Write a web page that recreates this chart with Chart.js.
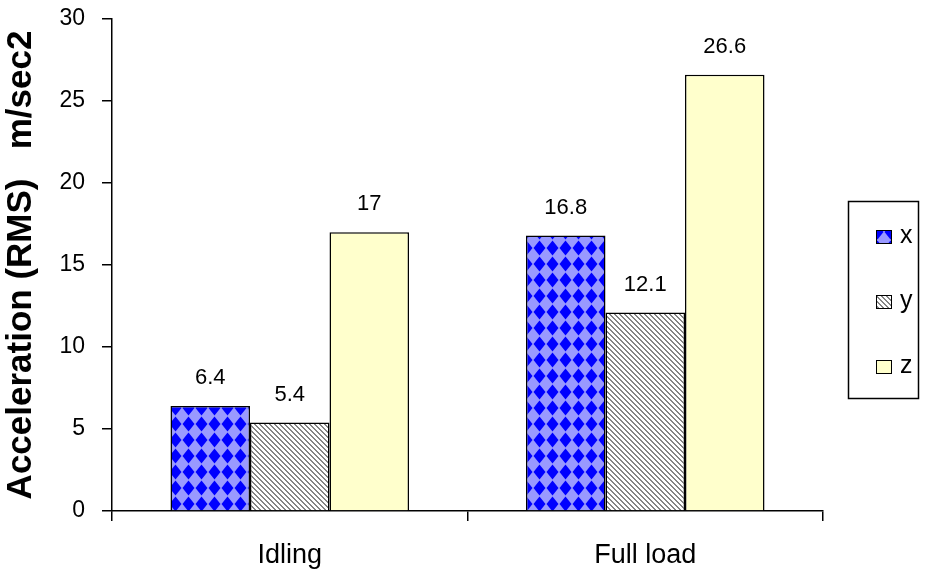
<!DOCTYPE html>
<html>
<head>
<meta charset="utf-8">
<script src="https://cdn.jsdelivr.net/npm/chart.js@4"></script>
<style>
  html, body { margin: 0; padding: 0; background: #fff; }
  #wrap { width: 928px; height: 577px; }
</style>
</head>
<body>
<div id="wrap"><canvas id="accel"></canvas></div>
<script>
// values
var categories = ["Idling", "Full load"];
var seriesNames = ["x", "y", "z"];
var xValues = [6.4, 16.8];
var yValues = [5.4, 12.1];
var zValues = [17, 26.6];
var yTicks = [0, 5, 10, 15, 20, 25, 30];

var FONT = "'Liberation Sans', Arial, sans-serif";

// blue diamond checker, like the old excel fill
function diamondPattern() {
    let c = document.createElement("canvas");
    c.width = 13; c.height = 16;
    let g = c.getContext("2d");
    g.fillStyle = "#9999ff";
    g.fillRect(0, 0, 13, 16);
    g.fillStyle = "#0000ff";
    g.beginPath();
    g.moveTo(6.5, 0.5);
    g.lineTo(12.5, 8);
    g.lineTo(6.5, 15.5);
    g.lineTo(0.5, 8);
    g.closePath();
    g.fill();
    return g.createPattern(c, "repeat");
}

// grey diagonal hatching
function stripePattern() {
    let c = document.createElement("canvas");
    c.width = 5; c.height = 5;
    let g = c.getContext("2d");
    g.fillStyle = "#ffffff";
    g.fillRect(0, 0, 5, 5);
    g.fillStyle = "#858585";
    for (let i = 0; i < 5; i++) {
        for (let j = 0; j < 5; j++) {
            if (((i - j) % 5 + 5) % 5 < 2) g.fillRect(i, j, 1, 1);
        }
    }
    return g.createPattern(c, "repeat");
}

var fills = [diamondPattern(), stripePattern(), "#ffffcc"];

// numbers above the bars
var valueLabels = {
    id: "valueLabels",
    afterDatasetsDraw(chart) {
        let ctx = chart.ctx;
        ctx.save();
        ctx.font = "22px " + FONT;
        ctx.fillStyle = "#000";
        ctx.textAlign = "center";
        ctx.textBaseline = "middle";
        chart.data.datasets.forEach(function (ds, i) {
            chart.getDatasetMeta(i).data.forEach(function (bar, j) {
                ctx.fillText(String(ds.data[j]), bar.x, bar.y - 28);
            });
        });
        ctx.restore();
    }
};

// boxed legend on the right
var boxLegend = {
    id: "boxLegend",
    afterDraw(chart) {
        let ctx = chart.ctx;
        let area = chart.chartArea;
        let left = area.right + 25;
        ctx.save();
        ctx.strokeStyle = "#000";
        ctx.lineWidth = 1.5;
        ctx.strokeRect(left + 0.5, 201.5, 70, 197);
        ctx.font = "25px " + FONT;
        ctx.textBaseline = "middle";
        ctx.textAlign = "left";
        chart.data.datasets.forEach(function (ds, i) {
            let cy = 237 + i * 65;
            ctx.fillStyle = ds.backgroundColor;
            ctx.fillRect(left + 28, cy - 7, 16, 14);
            ctx.lineWidth = 1;
            ctx.strokeRect(left + 28.5, cy - 6.5, 15, 13);
            ctx.fillStyle = "#000";
            ctx.fillText(ds.label, left + 52, cy - 1);
        });
        ctx.restore();
    }
};

var ctx = document.getElementById("accel").getContext("2d");
var accelChart = new Chart(ctx, {
    type: "bar",
    data: {
        labels: categories,
        datasets: [
            { label: seriesNames[0], data: xValues },
            { label: seriesNames[1], data: yValues },
            { label: seriesNames[2], data: zValues }
        ].map(function (ds, i) {
            ds.backgroundColor = fills[i];
            ds.borderColor = "#000";
            ds.borderWidth = 1.5;
            ds.categoryPercentage = 0.671;
            ds.barPercentage = 1;
            return ds;
        })
    },
    options: {
        responsive: true,
        maintainAspectRatio: false,
        animation: false,
        layout: { padding: { left: 0, top: 19, right: 105, bottom: 0 } },
        plugins: {
            legend: { display: false },
            tooltip: { enabled: false }
        },
        scales: {
            x: {
                grid: {
                    offset: true,
                    drawOnChartArea: false,
                    drawTicks: true,
                    tickLength: 10,
                    color: "#000",
                    lineWidth: 1.5
                },
                border: { color: "#000", width: 1.5 },
                ticks: {
                    color: "#000",
                    font: { family: FONT, size: 27 },
                    padding: 18
                },
                afterFit(scale) { scale.height = 66; }
            },
            y: {
                min: 0,
                max: 30,
                afterBuildTicks(scale) {
                    scale.ticks = yTicks.map(function (v) { return { value: v }; });
                },
                grid: {
                    drawOnChartArea: false,
                    drawTicks: true,
                    tickLength: 10,
                    color: "#000",
                    lineWidth: 1.5
                },
                border: { color: "#000", width: 1.5 },
                ticks: {
                    color: "#000",
                    font: { family: FONT, size: 23 },
                    padding: 17
                },
                title: {
                    display: true,
                    text: "Acceleration (RMS)   m/sec2",
                    color: "#000",
                    font: { family: FONT, size: 35, weight: "bold" },
                    padding: { top: 0, bottom: 0 }
                },
                afterFit(scale) {
                    scale.width = 112;
                    scale.paddingTop = 0;
                    scale.paddingBottom = 0;
                }
            }
        }
    },
    plugins: [valueLabels, boxLegend]
});
</script>
</body>
</html>
